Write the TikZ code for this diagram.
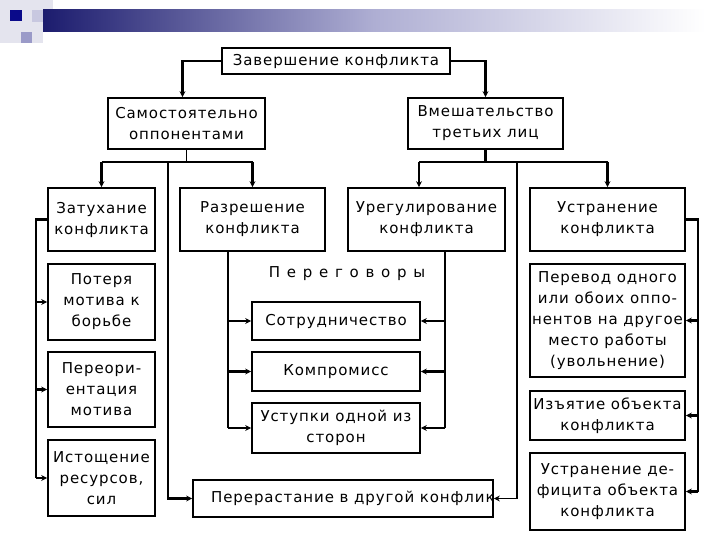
\documentclass[tikz,border=0pt]{standalone}
\usepackage{fontspec}
\setmainfont{DejaVu Sans}
\newfontfamily\boxfont[LetterSpace=6]{DejaVu Sans}
\newfontfamily\widefont[LetterSpace=45]{DejaVu Sans}
\usetikzlibrary{arrows.meta}
\definecolor{hdrdark}{HTML}{1C1C6E}
\definecolor{hdrnavy}{HTML}{0A0A8A}
\definecolor{hdrlav}{HTML}{9A9AC8}
\definecolor{hdrlight}{HTML}{E4E4EE}
\definecolor{hdrmid}{HTML}{C8C8E0}
\tikzset{
  box/.style={draw, line width=1.7pt, fill=white, inner sep=0pt, align=center,
    font=\boxfont\fontsize{15}{21}\selectfont},
  conn/.style={line width=2.2pt},
  thinconn/.style={line width=1.2pt},
  arr/.style={line width=2.2pt, -{Stealth[length=6pt,width=6pt]}},
  thinarr/.style={line width=1.2pt, -{Stealth[length=6pt,width=6pt]}}
}
\begin{document}
\begin{tikzpicture}[x=1pt, y=-1pt]
\useasboundingbox (0,0) rectangle (720,540);
\fill[white] (0,0) rectangle (720,540);
% header decoration
\fill[hdrlight] (0,0) rectangle (43,43);
\fill[hdrmid] (32,10) rectangle (53,22);
\fill[hdrlight] (43,0) rectangle (53,10);
\shade[left color=hdrdark, right color=white, middle color=hdrlav!80] (43,10) rectangle (705,32);
\fill[hdrnavy] (10,10) rectangle (22,21);
\fill[hdrlav] (21,32) rectangle (32,43);

% boxes
\node[box, minimum width=228, minimum height=26] (top) at (336,61) {Завершение конфликта};
\node[box, minimum width=157, minimum height=51] (samost) at (186.5,123.5) {Самостоятельно\\оппонентами};
\node[box, minimum width=155, minimum height=51] (vmesh) at (485.5,123.5) {Вмешательство\\третьих лиц};
\node[box, minimum width=107, minimum height=63] (zat) at (101.5,219.5) {Затухание\\конфликта};
\node[box, minimum width=145, minimum height=63] (razr) at (252.5,219.5) {Разрешение\\конфликта};
\node[box, minimum width=157, minimum height=63] (ureg) at (426.5,219.5) {Урегулирование\\конфликта};
\node[box, minimum width=155, minimum height=63] (ustr) at (607.5,219.5) {Устранение\\конфликта};
\node[box, minimum width=107, minimum height=76] (poter) at (101.5,302) {Потеря\\мотива к\\борьбе};
\node[box, minimum width=107, minimum height=75] (pereor) at (101.5,389.5) {Переори-\\ентация\\мотива};
\node[box, minimum width=107, minimum height=76] (istosh) at (101.5,478) {Истощение\\ресурсов,\\сил};
\node[font=\widefont\fontsize{15}{16}\selectfont] (negot) at (347,274) {Переговоры};
\node[box, minimum width=168, minimum height=38] (sotr) at (336,321) {Сотрудничество};
\node[box, minimum width=168, minimum height=39] (kompr) at (336,371.5) {Компромисс};
\node[box, minimum width=168, minimum height=50] (ustup) at (336,428) {Уступки одной из\\сторон};
\node[box, minimum width=300, minimum height=37] (perer) at (343,498.5) {};
\node[font=\boxfont\fontsize{15}{21}\selectfont, anchor=west, inner sep=0pt] (perertext) at (211,498) {Перерастание в другой конфлик};
\node[box, minimum width=155, minimum height=113] (perev) at (607.5,320.5) {Перевод одного\\или обоих оппо-\\нентов на другое\\место работы\\(увольнение)};
\node[box, minimum width=155, minimum height=49] (izyat) at (607.5,415.5) {Изъятие объекта\\конфликта};
\node[box, minimum width=155, minimum height=77] (defic) at (607.5,491.5) {Устранение де-\\фицита объекта\\конфликта};

% helper coordinates
\coordinate (lh) at (0,162);
\coordinate (lv) at (168,162);
\coordinate (rv) at (517,162);
\coordinate (sa) at ([xshift=-4pt]samost.north);
\coordinate (ua) at ([xshift=-7.5pt]ureg.north);
\coordinate (zl) at (36,0);
\coordinate (rl) at (228,0);
\coordinate (ul) at (445,0);
\coordinate (sl) at (698,0);

% top connectors
\draw[arr] (top.west) -| (sa);
\draw[arr] (top.east) -| (vmesh.north);

% left branch
\draw[thinconn] (samost.south) -- (samost.south |- lh);
\draw[thinconn] (zat.north |- lh) -- (razr.north |- lh);
\draw[arr] (zat.north |- lh) -- (zat.north);
\draw[arr] (razr.north |- lh) -- (razr.north);
\draw[arr] (lv) |- (perer.west);

% right branch
\draw[conn] (vmesh.south) -- (vmesh.south |- lh);
\draw[thinconn] (ua |- lh) -- (ustr.north |- lh);
\draw[arr] (ua |- lh) -- (ua);
\draw[arr] (ustr.north |- lh) -- (ustr.north);
\draw[thinarr] (rv) |- (perer.east);

% Затухание loop
\draw[conn] (zat.west) -| (zl |- istosh.west);
\draw[arr] (zl |- poter.west) -- (poter.west);
\draw[arr] (zl |- pereor.west) -- (pereor.west);
\draw[arr] (zl |- istosh.west) -- (istosh.west);

% Разрешение loop
\draw[conn] (rl |- razr.south) -- (rl |- ustup.west);
\draw[arr] (rl |- sotr.west) -- (sotr.west);
\draw[arr] (rl |- kompr.west) -- (kompr.west);
\draw[arr] (rl |- ustup.west) -- (ustup.west);

% Урегулирование loop
\draw[conn] (ul |- ureg.south) -- (ul |- ustup.east);
\draw[arr] (ul |- sotr.east) -- (sotr.east);
\draw[arr] (ul |- kompr.east) -- (kompr.east);
\draw[arr] (ul |- ustup.east) -- (ustup.east);

% Устранение loop
\draw[conn] (ustr.east) -| (sl |- defic.east);
\draw[arr] (sl |- perev.east) -- (perev.east);
\draw[arr] (sl |- izyat.east) -- (izyat.east);
\draw[arr] (sl |- defic.east) -- (defic.east);
\end{tikzpicture}
\end{document}
